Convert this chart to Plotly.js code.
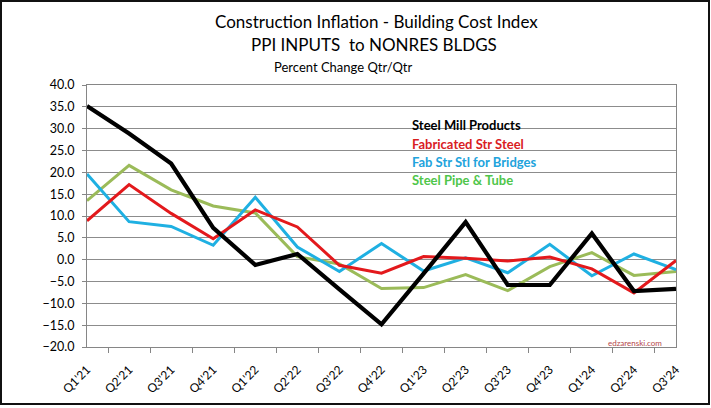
<!DOCTYPE html>
<html>
<head>
<meta charset="utf-8">
<script src="https://cdn.plot.ly/plotly-3.0.1.min.js"></script>
<style>
  html, body { margin: 0; padding: 0; background: #fff; }
  #wrap { position: relative; width: 711px; height: 408px; }
  #chart { width: 711px; height: 408px; }
  #frame {
    position: absolute; left: 0; top: 0; width: 710px; height: 405px;
    box-sizing: border-box; border: 2px solid #111; pointer-events: none;
  }
</style>
</head>
<body>
<div id="wrap">
  <div id="chart"></div>
  <div id="frame"></div>
</div>
<script>
// Quarterly percent change, Q1'21 .. Q3'24
const quarters = ["Q1'21","Q2'21","Q3'21","Q4'21","Q1'22","Q2'22","Q3'22","Q4'22",
                  "Q1'23","Q2'23","Q3'23","Q4'23","Q1'24","Q2'24","Q3'24"];

const steelMill     = [35.2, 28.9, 22.0, 7.3, -1.2, 1.3, -6.8, -14.8, -3.2, 8.6, -5.8, -5.8, 6.0, -7.2, -6.7];
const fabStrSteel   = [8.9, 17.2, 10.6, 4.8, 11.4, 7.5, -1.3, -3.1, 0.7, 0.3, -0.3, 0.6, -2.1, -7.6, -0.2];
const fabBridges    = [19.6, 8.7, 7.6, 3.3, 14.3, 2.9, -2.7, 3.7, -2.6, 0.4, -3.0, 3.5, -3.7, 1.3, -2.3];
const pipeTube      = [13.5, 21.6, 16.0, 12.3, 10.7, 0.7, -1.0, -6.6, -6.4, -3.4, -7.1, -1.6, 1.6, -3.6, -2.7];

const seriesNames = ["Steel Mill Products", "Fabricated Str Steel", "Fab Str Stl for Bridges", "Steel Pipe & Tube"];

const titleLines = ["Construction Inflation - Building Cost Index", "PPI INPUTS  to NONRES BLDGS", "Percent Change Qtr/Qtr"];
const siteMark = "edzarenski.com";

const lineColors = ["#000000", "#e3191c", "#1fb0e2", "#9bbb59"];
const labelColors = ["#000000", "#d9201f", "#21a3dc", "#4fc64a"];
const FONT = "Lato, 'Open Sans', sans-serif";

function lineTrace(y, idx, width) {
  return {
    x: quarters, y: y, type: "scatter", mode: "lines",
    name: seriesNames[idx],
    line: { color: lineColors[idx], width: width },
    hoverinfo: "skip"
  };
}

const data = [
  lineTrace(pipeTube, 3, 3),
  lineTrace(fabBridges, 2, 3),
  lineTrace(fabStrSteel, 1, 3),
  lineTrace(steelMill, 0, 4.2)
];

// plot area: x 87..676, y 85..347 (pixels)
const L = 87, R = 676, T = 85, B = 347;
const px = x => (x - L) / (R - L);
const py = y => (B - y) / (B - T);

const annotations = [
  { text: titleLines[0], x: px(376), y: py(21), size: 17 },
  { text: titleLines[1], x: px(374), y: py(45), size: 17 },
].map(a => ({
  xref: "paper", yref: "paper", x: a.x, y: a.y, text: a.text, showarrow: false,
  xanchor: "center", yanchor: "middle", font: { family: FONT, size: a.size, color: "#000" }
}));

annotations.push({
  xref: "paper", yref: "paper", x: px(272), y: py(67), text: titleLines[2], showarrow: false,
  xanchor: "left", yanchor: "middle", font: { family: FONT, size: 13, color: "#000" }
});

const legendY = [125, 143.5, 161.5, 179.5];
seriesNames.forEach((name, i) => {
  annotations.push({
    xref: "paper", yref: "paper", x: px(410), y: py(legendY[i]), text: "<b>" + name + "</b>",
    showarrow: false, xanchor: "left", yanchor: "middle",
    font: { family: FONT, size: 13, color: labelColors[i] }
  });
});

annotations.push({
  xref: "paper", yref: "paper", x: px(664), y: py(343), text: siteMark, showarrow: false,
  xanchor: "right", yanchor: "middle", font: { family: FONT, size: 8, color: "#b5474b" }
});

const layout = {
  width: 711, height: 408,
  margin: { l: L, r: 711 - R, t: T, b: 408 - B, pad: 0 },
  paper_bgcolor: "#ffffff", plot_bgcolor: "#ffffff",
  showlegend: false,
  font: { family: FONT, size: 12, color: "#000" },
  xaxis: {
    type: "category",
    tickangle: -45,
    ticks: "outside", ticklen: 5, tickcolor: "#868686", tickwidth: 1,
    tickson: "boundaries",
    showgrid: false, zeroline: false,
    showline: true, linecolor: "#868686", linewidth: 1, mirror: true,
    tickfont: { family: FONT, size: 12, color: "#000" },
    ticklabelstandoff: 10,
    fixedrange: true
  },
  yaxis: {
    range: [-20, 40], dtick: 5, tick0: 0, tickformat: ".1f",
    ticks: "outside", ticklen: 4, tickcolor: "#868686",
    showgrid: true, gridcolor: "#8c8c8c", gridwidth: 1,
    zeroline: false,
    showline: true, linecolor: "#868686", linewidth: 1, mirror: true,
    tickfont: { family: FONT, size: 12.5, color: "#000" },
    ticklabelstandoff: 5,
    fixedrange: true
  },
  annotations: annotations
};

Plotly.newPlot("chart", data, layout, { displayModeBar: false, staticPlot: true });
</script>
</body>
</html>
